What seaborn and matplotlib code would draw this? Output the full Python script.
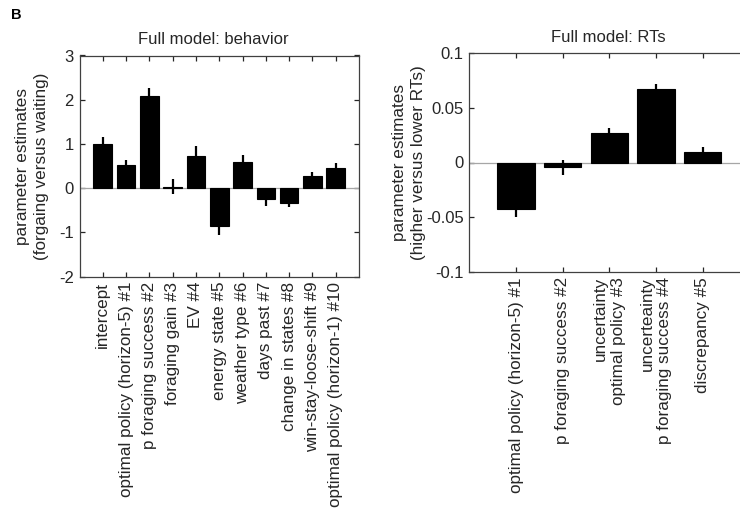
import numpy as np
import pandas as pd
import matplotlib
matplotlib.use("Agg")
import matplotlib.pyplot as plt
import seaborn as sns

# Behaviour model: regressor names, estimates and error half-widths
beh_labels = [
    "intercept",
    "optimal policy (horizon-5) #1",
    "p foraging success #2",
    "foraging gain #3",
    "EV #4",
    "energy state #5",
    "weather type #6",
    "days past #7",
    "change in states #8",
    "win-stay-loose-shift #9",
    "optimal policy (horizon-1) #10",
]
beh_values = [0.99, 0.52, 2.08, 0.03, 0.72, -0.86, 0.59, -0.25, -0.33, 0.28, 0.45]
beh_errors = [0.17, 0.12, 0.19, 0.17, 0.24, 0.19, 0.16, 0.16, 0.10, 0.09, 0.13]

# RT model: regressor names, estimates and error half-widths
rt_labels = [
    "optimal policy (horizon-5) #1",
    "p foraging success #2",
    "uncertainty\noptimal policy #3",
    "uncerteainty\np foraging success #4",
    "discrepancy #5",
]
rt_values = [-0.0425, -0.0045, 0.0267, 0.0665, 0.0098]
rt_errors = [0.0075, 0.0068, 0.0045, 0.0052, 0.0045]

beh_ticks = [-2, -1, 0, 1, 2, 3]
rt_ticks = [-0.1, -0.05, 0, 0.05, 0.1]

sns.set_theme(style="white")
dark = "#262626"
plt.rcParams.update({
    "font.family": ["Liberation Sans", "DejaVu Sans"],
    "axes.unicode_minus": False,
    "text.color": dark,
    "axes.labelcolor": dark,
    "xtick.color": dark,
    "ytick.color": dark,
    "axes.edgecolor": "#404040",
    "axes.linewidth": 0.9,
})

fig = plt.figure(figsize=(7.4, 5.12), dpi=100)
W, H = 740.0, 512.0


def add_axes_px(left, top, right, bottom):
    return fig.add_axes([left / W, 1 - bottom / H, (right - left) / W, (bottom - top) / H])


def draw_panel(ax, labels, values, errors, ylim, yticks, ytick_text, title, ylabel,
               ylabel_x, title_x):
    df = pd.DataFrame({"regressor": labels, "estimate": values})
    sns.barplot(data=df, x="regressor", y="estimate", order=labels, color="black",
                width=0.8, errorbar=None, edgecolor="black", linewidth=0.8,
                saturation=1, ax=ax, zorder=2)
    pos = np.arange(len(labels))
    ax.errorbar(pos, values, yerr=errors, fmt="none", ecolor="black",
                elinewidth=1.6, capsize=0, zorder=3)
    ax.axhline(0, color="#a6a6a6", lw=0.9, zorder=1)
    ax.set_xlim(-1, len(labels))
    ax.set_ylim(*ylim)
    ax.set_yticks(yticks)
    ax.set_yticklabels(ytick_text)
    ax.set_xticks(pos)
    ax.set_xticklabels(labels, rotation=90, ha="center", va="top",
                       multialignment="right", fontsize=12.3)
    ax.tick_params(axis="both", which="major", direction="in", length=3.5,
                   width=0.9, top=True, right=True, bottom=True, left=True,
                   labelsize=12)
    ax.tick_params(axis="x", pad=3.5, labelsize=12.3)
    ax.tick_params(axis="y", pad=4)
    for s in ax.spines.values():
        s.set_visible(True)
    ax.set_xlabel("")
    ax.set_ylabel(ylabel, fontsize=12.3, va="center", ha="center", linespacing=1.35)
    ax.yaxis.set_label_coords(ylabel_x, 0.5)
    ax.set_title(title, fontsize=12, pad=8, x=title_x)


ax1 = add_axes_px(79.5, 55.5, 359, 276.7)
draw_panel(ax1, beh_labels, beh_values, beh_errors, (-2, 3), beh_ticks,
           [str(t) for t in beh_ticks], "Full model: behavior",
           "parameter estimates\n(forgaing versus waiting)", -0.171, 0.48)

ax2 = add_axes_px(469.3, 52.7, 749.5, 272.3)
draw_panel(ax2, rt_labels, rt_values, rt_errors, (-0.1, 0.1), rt_ticks,
           ["-0.1", "-0.05", "0", "0.05", "0.1"], "Full model: RTs",
           "parameter estimates\n(higher versus lower RTs)", -0.215, 0.495)

fig.text(11 / W, 1 - 8 / H, "B", fontsize=10.5, fontweight="bold", va="top", ha="left",
         color="black")

fig.savefig("out.png", dpi=100, facecolor="white")
